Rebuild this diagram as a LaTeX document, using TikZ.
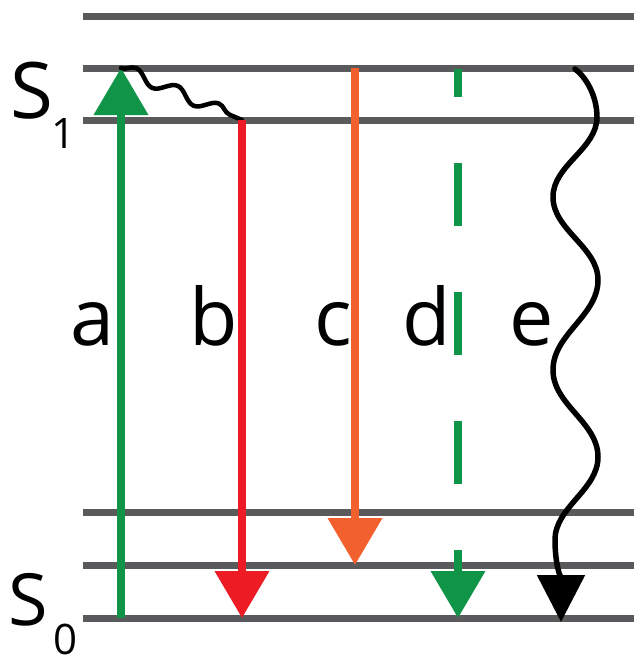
\documentclass[tikz,border=0pt]{standalone}
\usepackage{fontspec}
\setmainfont{Open Sans}
\usetikzlibrary{arrows.meta,decorations.pathmorphing}

\definecolor{lvlgray}{RGB}{90,90,92}
\definecolor{absgreen}{RGB}{16,148,72}
\definecolor{fluored}{RGB}{237,28,36}
\definecolor{icorange}{RGB}{242,97,45}

\tikzset{
  enlevel/.style={draw=lvlgray, line width=7pt},
  transarrow/.style={line width=7.5pt},
  bigtip/.style={-{Triangle[width=53pt,length=47pt]}},
  lbl/.style={inner sep=0pt, anchor=base, font=\fontsize{79}{80}\selectfont},
  statelbl/.style={inner sep=0pt, anchor=base},
}

\begin{document}
\begin{tikzpicture}[x=1pt, y=-1pt]
  \useasboundingbox (0,0) rectangle (634,659);

  % vibrational levels of S1 (top three) and S0 (bottom three)
  \foreach \yy [count=\i] in {16,68,120,512,565,618} {
    \coordinate (lv\i w) at (83,\yy);
    \coordinate (lv\i e) at (634,\yy);
    \draw[enlevel] (lv\i w) -- (lv\i e);
  }

  % state labels
  \node[statelbl, font=\fontsize{78}{80}\selectfont] (s1) at (31.5,118) {S};
  \node[statelbl, font=\fontsize{42}{44}\selectfont] (s1sub) at (64,148) {1};
  \node[statelbl, font=\fontsize{72}{74}\selectfont] (s0) at (28,625) {S};
  \node[statelbl, font=\fontsize{42}{44}\selectfont] (s0sub) at (66,654) {0};

  % end points of the transitions
  \coordinate (a0) at (121,618);  \coordinate (a1) at (121,68);
  \coordinate (b0) at (242,120);  \coordinate (b1) at (242,618);
  \coordinate (c0) at (355,68);   \coordinate (c1) at (355,565);
  \coordinate (d0) at (458,69);   \coordinate (d1) at (458,618);
  \coordinate (e0) at (575,69);   \coordinate (e1) at (561,622);

  % a: absorption
  \draw[transarrow, absgreen, bigtip] (a0) -- (a1);
  % relaxation within S1
  \draw[black, line width=4.5pt, line cap=round,
        decorate, decoration={snake, segment length=45pt, amplitude=6pt}]
        (a1) -- (b0);
  % b, c: radiative decay
  \draw[transarrow, fluored, bigtip] (b0) -- (b1);
  \draw[transarrow, icorange, bigtip] (c0) -- (c1);
  % d: dashed decay
  \draw[transarrow, absgreen, dash pattern=on 63pt off 66pt, dash phase=35pt,
        bigtip] (d0) -- (d1);
  % e: non-radiative decay
  \draw[line width=5.5pt, line cap=round, -{Triangle[width=47pt,length=47pt]}]
    (e0) .. controls (585,76) and (597,95) .. (597,117)
         .. controls (597,149) and (553,165) .. (553,197)
         .. controls (553,230) and (598,247) .. (598,280)
         .. controls (598,316) and (553,334) .. (553,370)
         .. controls (553,405) and (598,422) .. (598,457)
         .. controls (598,490) and (555,507) .. (555,540)
         .. controls (555,565) and (561,580) .. (e1);

  % transition labels
  \node[lbl] (la) at (92,345) {a};
  \node[lbl] (lb) at (214,345) {b};
  \node[lbl] (lc) at (333,345) {c};
  \node[lbl] (ld) at (427,345) {d};
  \node[lbl] (le) at (532,345) {e};
\end{tikzpicture}
\end{document}
